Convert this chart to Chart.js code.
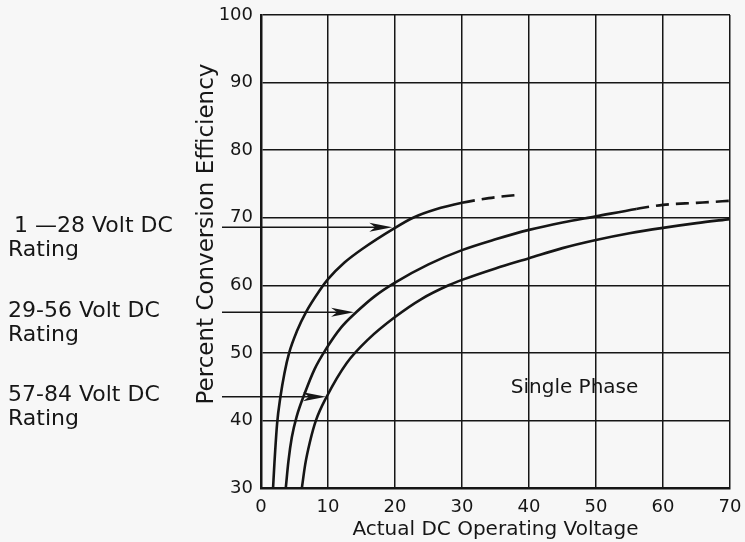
<!DOCTYPE html>
<html>
<head>
<meta charset="utf-8">
<title>Percent Conversion Efficiency - Single Phase</title>
<script src="https://cdn.jsdelivr.net/npm/chart.js@4.4.1/dist/chart.umd.min.js"></script>
<style>
  html, body { margin: 0; padding: 0; background: #f7f7f7; }
  #wrap { width: 745px; height: 542px; }
</style>
</head>
<body>
<div id="wrap"><canvas id="effChart" width="745" height="542"></canvas></div>
<script>
// Curve data (x = actual DC operating voltage, y = % efficiency)
const voltage1 = [1.8, 2.0, 2.4, 2.9, 3.5, 4.2, 5.4, 6.7, 8.8, 10, 12.5, 15, 20, 22.7, 26, 30, 34, 38.5];
const effic1   = [30, 33.6, 39.5, 43.5, 47, 50, 53.3, 56, 59.3, 60.9, 63.4, 65.3, 68.5, 70, 71.2, 72.2, 72.9, 73.4];

const voltage2 = [3.7, 4.1, 4.6, 5.3, 6.6, 8, 9.6, 12, 14.2, 17, 20, 25, 30, 35, 40, 45, 50, 56, 60, 65, 70];
const effic2   = [30, 34, 37.5, 40.5, 44.2, 47.6, 50.4, 53.8, 56, 58.4, 60.4, 63.1, 65.2, 66.8, 68.2, 69.3, 70.2, 71.3, 71.9, 72.2, 72.5];

const voltage3 = [6.1, 6.6, 7.3, 8.2, 9.8, 12.8, 16, 20, 24, 28, 30, 35, 40, 45, 50, 55, 60, 65, 70];
const effic3   = [30, 33.5, 36.8, 40, 43.5, 48.5, 52, 55.3, 58, 60, 60.8, 62.5, 64, 65.5, 66.7, 67.7, 68.5, 69.2, 69.8];

// where each curve turns into a dashed (extrapolated) line
const dashFrom = [30, 56, null];

// rating labels with their pointer arrows
const ratingLabels = ['1 \u201428 Volt DC', '29-56 Volt DC', '57-84 Volt DC'];
const arrowY      = [68.6, 56, 43.5];
const arrowTipX   = [19.6, 13.9, 9.7];

const xTicks = [0, 10, 20, 30, 40, 50, 60, 70];
const yTicks = [30, 40, 50, 60, 70, 80, 90, 100];

const INK = '#161616';
const FONT = "'DejaVu Sans', sans-serif";

const toPoints = (xs, ys) => xs.map((x, i) => ({ x: x, y: ys[i] }));

const curveDataset = (xs, ys, dashStart) => ({
    data: toPoints(xs, ys),
    borderColor: INK,
    borderWidth: 2.6,
    pointRadius: 0,
    fill: false,
    cubicInterpolationMode: 'monotone',
    segment: {
        borderDash: c => (dashStart !== null && c.p0.parsed.x >= dashStart - 1e-6) ? [13, 7] : undefined
    }
});

// the plot box is placed by hand, so drop the padding Chart.js adds for edge labels
const noEdgePadding = s => {
    s.paddingTop = 0;
    s.paddingBottom = 0;
    s.paddingLeft = 0;
    s.paddingRight = 0;
};

// labels, arrows, y title and the "Single Phase" note
const annotations = {
    id: 'annotations',
    afterDatasetsDraw(chart) {
        const { ctx, chartArea, scales: { x, y } } = chart;
        ctx.save();
        ctx.fillStyle = INK;
        ctx.strokeStyle = INK;

        // arrows from the labels to the curves
        arrowY.forEach((v, i) => {
            const py = y.getPixelForValue(v);
            const tip = x.getPixelForValue(arrowTipX[i]);
            ctx.lineWidth = 1.5;
            ctx.beginPath();
            ctx.moveTo(chartArea.left - 39, py);
            ctx.lineTo(tip - 10, py);
            ctx.stroke();
            ctx.beginPath();
            ctx.moveTo(tip, py);
            ctx.lineTo(tip - 23, py - 4.5);
            ctx.lineTo(tip - 17, py);
            ctx.lineTo(tip - 23, py + 4.5);
            ctx.closePath();
            ctx.fill();
        });

        // rating labels on the far left
        ctx.font = '22px ' + FONT;
        ctx.textAlign = 'left';
        ctx.textBaseline = 'middle';
        ratingLabels.forEach((t, i) => {
            const py = y.getPixelForValue(arrowY[i]);
            ctx.fillText(t, i === 0 ? 14 : 8, py - 1);
            ctx.fillText('Rating', 8, py + 23);
        });

        // note inside the plot
        ctx.font = '20px ' + FONT;
        ctx.textAlign = 'center';
        ctx.fillText('Single Phase', x.getPixelForValue(46.8), y.getPixelForValue(44.8));

        // y axis title
        ctx.font = '23px ' + FONT;
        ctx.translate(207, 234);
        ctx.rotate(-Math.PI / 2);
        ctx.fillText('Percent Conversion Efficiency', 0, 0);
        ctx.restore();
    }
};

new Chart(document.getElementById('effChart'), {
    type: 'line',
    data: {
        datasets: [
            curveDataset(voltage1, effic1, dashFrom[0]),
            curveDataset(voltage2, effic2, dashFrom[1]),
            curveDataset(voltage3, effic3, dashFrom[2])
        ]
    },
    options: {
        responsive: false,
        animation: false,
        layout: { padding: { left: 0, top: 15, right: 15, bottom: 0 } },
        plugins: {
            legend: { display: false },
            tooltip: { enabled: false }
        },
        scales: {
            x: {
                type: 'linear',
                min: 0,
                max: 70,
                afterBuildTicks: s => { s.ticks = xTicks.map(v => ({ value: v })); },
                afterFit: s => { s.height = 54; noEdgePadding(s); },
                grid: { color: INK, lineWidth: 1.5, drawTicks: false },
                border: { color: INK, width: 2.5 },
                ticks: { color: INK, font: { family: FONT, size: 18 }, padding: 9, autoSkip: false, maxRotation: 0 },
                title: {
                    display: true,
                    text: 'Actual DC Operating Voltage',
                    color: INK,
                    font: { family: FONT, size: 20 },
                    padding: { top: 0, bottom: 0 }
                }
            },
            y: {
                type: 'linear',
                min: 30,
                max: 100,
                afterBuildTicks: s => { s.ticks = yTicks.map(v => ({ value: v })); },
                afterFit: s => { s.width = 261; noEdgePadding(s); },
                grid: { color: INK, lineWidth: 1.5, drawTicks: false },
                border: { color: INK, width: 2.5 },
                ticks: { color: INK, font: { family: FONT, size: 18 }, padding: 8, autoSkip: false }
            }
        }
    },
    plugins: [annotations]
});
</script>
</body>
</html>
